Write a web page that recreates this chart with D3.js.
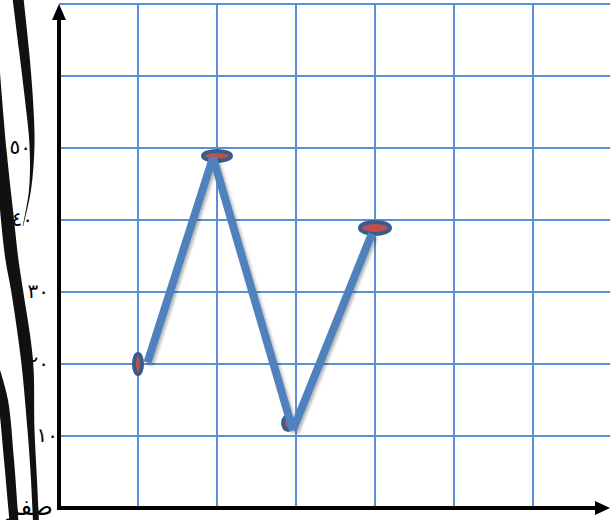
<!DOCTYPE html>
<html><head><meta charset="utf-8">
<script src="https://cdn.jsdelivr.net/npm/d3@7"></script>
<style>html,body{margin:0;padding:0;background:#fff;}svg{display:block;}</style>
</head><body>
<div id="chart"></div>
<script>
// ---- data ----
const yTickValues = [0, 10, 20, 30, 40, 50];
const yTickLabels = ["صفر", "١٠", "٢٠", "٣٠", "٤٠", "٥٠"];
const xGridValues = [1, 2, 3, 4, 5, 6, 7];
const yGridValues = [10, 20, 30, 40, 50, 60, 70];
// marker (point) positions
const pointX = [1, 2, 2.9, 4];
const pointY = [20, 48.9, 11.8, 38.9];
// hand-drawn connecting line ends
const lineX = [1.12, 1.95, 2.96, 3.96];
const lineY = [20.2, 48.7, 10.8, 38.1];

// ---- styles ----
const markerRx = [4, 14, 5, 15];
const markerRy = [10, 5, 7, 6];
const labelDx = [0, 9, 0, 0, -16, -18];
const labelSpacing = [0, 24, 11, 11, 11, 11];
const gridColor = "#5b8fd8";

const W = 610, H = 520;
const x = d3.scaleLinear().domain([0, 7]).range([59, 612]);
const y = d3.scaleLinear().domain([0, 70]).range([508, 4]);

const svg = d3.select("#chart").append("svg").attr("width", W).attr("height", H);
const defs = svg.append("defs");
const f = defs.append("filter").attr("id", "sh").attr("x", "-20%").attr("y", "-20%").attr("width", "140%").attr("height", "140%");
f.append("feDropShadow").attr("dx", 2).attr("dy", 2).attr("stdDeviation", 1.5).attr("flood-color", "#000").attr("flood-opacity", 0.3);

// grid
svg.append("g").selectAll("line").data(xGridValues).join("line")
  .attr("x1", d => x(d)).attr("x2", d => x(d)).attr("y1", y(70)).attr("y2", y(0))
  .attr("stroke", gridColor).attr("stroke-width", 2);
svg.append("g").selectAll("line").data(yGridValues).join("line")
  .attr("x1", x(0)).attr("x2", W).attr("y1", d => y(d)).attr("y2", d => y(d))
  .attr("stroke", gridColor).attr("stroke-width", 2);

// axes
svg.append("line").attr("x1", x(0)).attr("x2", x(0)).attr("y1", 18).attr("y2", y(0) + 2)
  .attr("stroke", "#000").attr("stroke-width", 4);
svg.append("path").attr("d", `M${x(0)},4 L${x(0) - 7},20 L${x(0) + 7},20 Z`).attr("fill", "#000");
svg.append("line").attr("x1", x(0) - 2).attr("x2", 598).attr("y1", y(0)).attr("y2", y(0))
  .attr("stroke", "#000").attr("stroke-width", 4);
svg.append("path").attr("d", `M610,${y(0)} L595,${y(0) - 7} L595,${y(0) + 7} Z`).attr("fill", "#000");

// y labels
svg.append("g").selectAll("text").data(yTickValues).join("text")
  .attr("x", (d, i) => (d === 0 ? 53 : 49) + labelDx[i])
  .attr("y", d => d === 0 ? y(d) + 7 : y(d) + 6)
  .attr("text-anchor", "end")
  .attr("letter-spacing", (d, i) => labelSpacing[i] ? labelSpacing[i] + "px" : null)
  .attr("font-family", "DejaVu Sans, sans-serif")
  .attr("font-size", d => d === 0 ? 24 : 20).attr("fill", "#000")
  .text((d, i) => yTickLabels[i]);

// decorative black strokes on the left
const decoStrokes = [
  [[18, -2, 5.5], [24, 50, 5], [29, 100, 4], [32, 145, 2.5], [30, 190, 1], [23, 226, 0.3]],
  [[-5, 60, 4], [1, 150, 5.5], [7, 215, 6.5], [12, 260, 6.5], [17, 290, 6], [27, 360, 6], [31, 430, 3.5], [34, 480, 3], [36, 522, 3]],
  [[-4, 370, 4], [3, 400, 5], [9, 460, 5], [14, 522, 4.5]]
];
decoStrokes.forEach(s => {
  const left = s.map(p => [p[0] - p[2], p[1]]);
  const right = s.map(p => [p[0] + p[2], p[1]]).reverse();
  svg.append("path").attr("d", d3.line().curve(d3.curveCatmullRom)(left) + "L" +
      d3.line().curve(d3.curveCatmullRom)(right).slice(1) + "Z")
    .attr("fill", "#111");
});

// markers
svg.append("g").selectAll("ellipse").data(pointX).join("ellipse")
  .attr("cx", (d, i) => x(d)).attr("cy", (d, i) => y(pointY[i]))
  .attr("rx", (d, i) => markerRx[i]).attr("ry", (d, i) => markerRy[i])
  .attr("fill", "#c0504d").attr("stroke", "#385d8a").attr("stroke-width", 4);

// line segments
const segs = d3.range(lineX.length - 1).map(i => [[lineX[i], lineY[i]], [lineX[i + 1], lineY[i + 1]]]);
svg.append("g").attr("filter", "url(#sh)").selectAll("path").data(segs).join("path")
  .attr("d", d3.line().x(d => x(d[0])).y(d => y(d[1])))
  .attr("fill", "none").attr("stroke", "#4f81bd").attr("stroke-width", 8).attr("stroke-linecap", "butt");
</script>
</body></html>
